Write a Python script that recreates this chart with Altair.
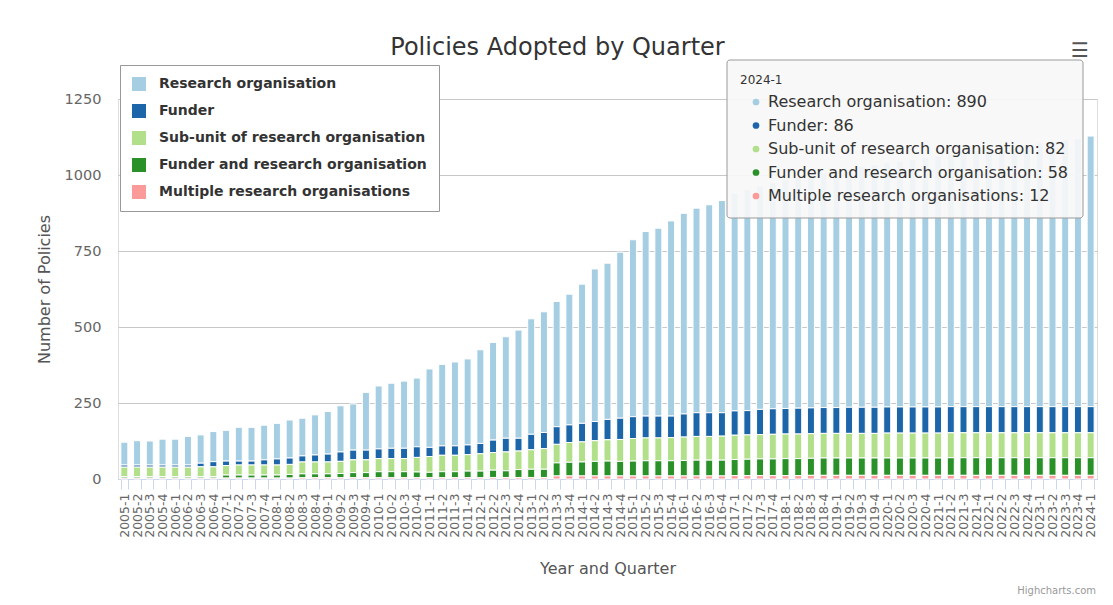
import altair as alt
import pandas as pd

quarters = [f"{y}-{q}" for y in range(2005, 2025) for q in (1, 2, 3, 4)][:77]

research_org = [75, 80, 79, 85, 85, 94, 93, 99, 101, 111, 111, 114, 117, 125, 124, 132,
                140, 152, 152, 190, 207, 214, 221, 226, 258, 268, 276, 283, 308, 321, 334, 356,
                380, 397, 412, 430, 458, 502, 514, 546, 582, 607, 618, 642, 660, 673, 684, 698,
                716, 727, 734, 744, 752, 759, 765, 772, 780, 785, 792, 798, 803, 809, 815, 821,
                826, 831, 836, 842, 848, 853, 858, 863, 868, 873, 878, 883, 890]
funder = [7, 7, 7, 7, 7, 7, 12, 17, 15, 13, 13, 17, 20, 21, 20, 23,
          26, 31, 32, 32, 32, 34, 34, 35, 30, 31, 31, 32, 34, 41, 45, 42,
          51, 53, 58, 58, 61, 63, 67, 70, 72, 72, 72, 71, 76, 78, 78, 77,
          80, 80, 83, 84, 84, 85, 85, 85, 85, 86, 86, 86, 86, 86, 86, 86,
          86, 86, 86, 86, 86, 86, 86, 86, 86, 86, 86, 86, 86]
sub_unit = [31, 31, 31, 31, 31, 31, 32, 32, 31, 33, 33, 33, 33, 33, 39, 39,
            39, 40, 42, 42, 43, 43, 43, 48, 52, 54, 54, 54, 57, 58, 62, 61,
            64, 68, 61, 65, 66, 68, 70, 72, 74, 75, 75, 76, 77, 78, 78, 79,
            80, 80, 80, 81, 81, 81, 81, 81, 81, 81, 81, 81, 82, 82, 82, 82,
            82, 82, 82, 82, 82, 82, 82, 82, 82, 82, 82, 82, 82]
funder_and_ro = [5, 5, 5, 5, 5, 5, 5, 5, 10, 10, 10, 10, 10, 12, 13, 13,
                 13, 14, 17, 17, 20, 20, 20, 19, 18, 20, 20, 22, 22, 24, 22, 26,
                 27, 27, 43, 45, 46, 48, 49, 48, 49, 50, 50, 50, 51, 52, 52, 52,
                 53, 54, 55, 55, 56, 56, 56, 57, 57, 57, 57, 57, 57, 57, 57, 57,
                 57, 58, 58, 58, 58, 58, 58, 58, 58, 58, 58, 58, 58]
multiple_ro = [3, 3, 3, 3, 3, 3, 3, 3, 3, 3, 3, 3, 3, 3, 4, 4,
               4, 4, 4, 4, 4, 4, 4, 4, 4, 4, 4, 4, 4, 5, 5, 5,
               5, 5, 10, 10, 10, 10, 10, 10, 10, 10, 10, 10, 10, 10, 10, 10,
               11, 11, 11, 11, 11, 11, 12, 12, 12, 12, 12, 12, 12, 12, 12, 12,
               12, 12, 12, 12, 12, 12, 12, 12, 12, 12, 12, 12, 12]

series_names = ["Research organisation", "Funder", "Sub-unit of research organisation",
                "Funder and research organisation", "Multiple research organisations"]
series_colors = ["#a6cee3", "#1c65a8", "#b2df8a", "#2a9129", "#fb9a99"]
series_values = [research_org, funder, sub_unit, funder_and_ro, multiple_ro]
y_ticks = [0, 250, 500, 750, 1000, 1250]

FONT = "DejaVu Sans"

rows = []
for i, q in enumerate(quarters):
    for k, (name, vals) in enumerate(zip(series_names, series_values)):
        rows.append({"quarter": q, "series": name, "value": vals[i], "k": k})
df = pd.DataFrame(rows)

color_scale = alt.Scale(domain=series_names, range=series_colors)

bars = alt.Chart(df).mark_bar(stroke="white", strokeWidth=1).encode(
    x=alt.X("quarter:N", sort=quarters,
            scale=alt.Scale(paddingInner=0.45, paddingOuter=0.225),
            axis=alt.Axis(title="Year and Quarter", labelAngle=270, labelOverlap=False,
                          labelFontSize=12.5, labelColor="#666666", labelFont=FONT,
                          labelPadding=4, tickBand="extent", tickSize=10,
                          tickColor="#ccd6eb", domainColor="#ccd6eb", grid=False,
                          titleFont=FONT, titleFontSize=16, titleFontWeight="normal",
                          titleColor="#555555", titlePadding=23)),
    y=alt.Y("value:Q", stack="zero",
            scale=alt.Scale(domain=[0, 1250], nice=False),
            axis=alt.Axis(values=y_ticks, format="d", title="Number of Policies", grid=True,
                          gridColor="#c8c8c8", domain=False, ticks=False,
                          labelPadding=17, labelFontSize=14.5, labelColor="#666666",
                          labelFont=FONT, titleFont=FONT, titleFontSize=16,
                          titleFontWeight="normal", titleColor="#555555",
                          titlePadding=12)),
    color=alt.Color("series:N", scale=color_scale,
                    legend=alt.Legend(orient="none", legendX=2, legendY=-34, title=None,
                                      fillColor="white", strokeColor="#999999",
                                      padding=12, rowPadding=13, symbolType="square",
                                      symbolSize=196, symbolStrokeWidth=0,
                                      labelFontSize=14, labelFont=FONT,
                                      labelFontWeight="bold", labelColor="#333333",
                                      labelOffset=13, labelLimit=400)),
    order=alt.Order("k:Q", sort="descending"),
)

# static tooltip for 2024-1
last_idx = len(quarters) - 1
tip_df = pd.DataFrame({
    "series": series_names,
    "label": [f"{n}: {v[last_idx]}" for n, v in zip(series_names, series_values)],
})
tip_y = alt.Y("series:N", scale=alt.Scale(domain=series_names, range=[3, 97], padding=0),
              axis=None)

tip_box = alt.Chart(pd.DataFrame({"q": [quarters[last_idx]]})).mark_rect(
    fill="#f7f7f7", fillOpacity=0.92, stroke="#9a9a9a", strokeWidth=1, cornerRadius=3
).encode(x=alt.value(609), x2=alt.value(965), y=alt.value(-39), y2=alt.value(119))

tip_header = alt.Chart(pd.DataFrame({"q": [quarters[last_idx]]})).mark_text(
    align="left", baseline="middle", font=FONT, fontSize=12, color="#333333"
).encode(x=alt.value(622), y=alt.value(-19), text="q:N")

tip_dots = alt.Chart(tip_df).mark_circle(size=45, opacity=1).encode(
    x=alt.value(638), y=tip_y, color=alt.Color("series:N", scale=color_scale)
)

tip_text = alt.Chart(tip_df).mark_text(
    align="left", baseline="middle", font=FONT, fontSize=16, color="#333333"
).encode(x=alt.value(650), y=tip_y, text="label:N")

menu = alt.Chart(pd.DataFrame({"t": ["\u2630"]})).mark_text(
    align="center", baseline="middle", font=FONT, fontSize=20, color="#555555"
).encode(x=alt.value(962), y=alt.value(-48), text="t:N")

credits = alt.Chart(pd.DataFrame({"t": ["Highcharts.com"]})).mark_text(
    align="right", baseline="alphabetic", font=FONT, fontSize=10, color="#999999"
).encode(x=alt.value(978), y=alt.value(495), text="t:N")

chart = alt.layer(bars, tip_box, tip_header, tip_dots, tip_text, menu, credits).resolve_scale(
    y="independent"
).properties(
    width=979,
    height=380,
    title=alt.TitleParams(text="Policies Adopted by Quarter", font=FONT, fontSize=24,
                          fontWeight="normal", color="#333333", anchor="middle",
                          frame="group", dx=-50, dy=49, offset=30),
    autosize=alt.AutoSizeParams(type="none"),
    padding={"left": 110, "top": 91, "right": 8, "bottom": 118},
).configure_view(stroke=None).configure(background="white")

chart.save("out.html", embed_options={"renderer": "svg", "actions": False})
